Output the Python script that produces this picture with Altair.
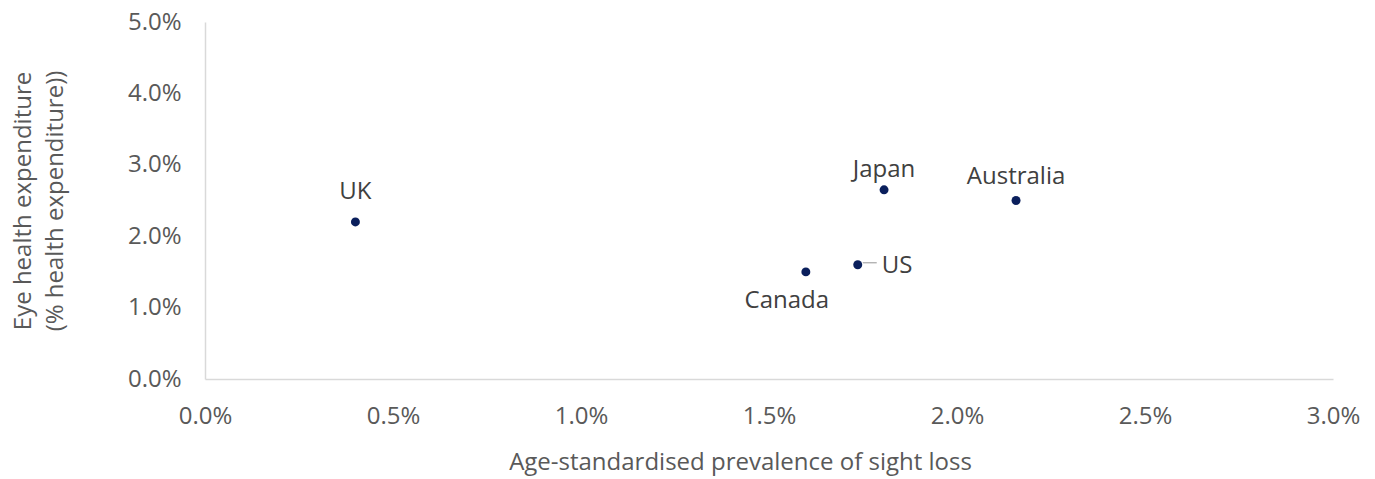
import altair as alt
import pandas as pd

countries = ["UK", "Japan", "Australia", "Canada", "US"]
prevalence = [0.40, 1.806, 2.157, 1.598, 1.736]      # % (x)
eye_spend = [2.20, 2.65, 2.50, 1.50, 1.60]          # % (y)

x_ticks = [0.0, 0.5, 1.0, 1.5, 2.0, 2.5, 3.0]
y_ticks = [0.0, 1.0, 2.0, 3.0, 4.0, 5.0]

df = pd.DataFrame({
    "country": countries,
    "x": [v / 100 for v in prevalence],
    "y": [v / 100 for v in eye_spend],
})

FONT = "Open Sans"
GREY = "#595959"
FS = 24

xs = alt.Scale(domain=[0, 0.03], nice=False, zero=False)
ys = alt.Scale(domain=[0, 0.05], nice=False, zero=False)

X = alt.X("x:Q", scale=xs, axis=alt.Axis(
    values=[v / 100 for v in x_ticks], format=".1%", grid=False, ticks=False,
    domainColor="#d9d9d9", domainWidth=1.5, labelFont=FONT, labelFontSize=FS,
    labelColor=GREY, labelPadding=25, labelFlush=False,
    title="Age-standardised prevalence of sight loss", titleFont=FONT,
    titleFontSize=FS, titleFontWeight="normal", titleColor=GREY,
    titlePadding=22, titleX=535))
Y = alt.Y("y:Q", scale=ys, axis=alt.Axis(
    values=[v / 100 for v in y_ticks], format=".1%", grid=False, ticks=False,
    domainColor="#d9d9d9", domainWidth=1.5, labelFont=FONT, labelFontSize=FS,
    labelColor=GREY, labelPadding=24, labelFlush=False,
    title=["Eye health expenditure", "(% health expenditure))"], titleFont=FONT,
    titleFontSize=FS, titleFontWeight="normal", titleColor=GREY,
    titlePadding=60, titleLineHeight=32))

base = alt.Chart(df)

points = base.mark_circle(size=80, color="#0a1f5c", opacity=1).encode(x=X, y=Y)

label_style = {
    "UK": dict(align="center", dx=0, dy=-23),
    "Japan": dict(align="center", dx=0, dy=-13),
    "Australia": dict(align="center", dx=0, dy=-17),
    "Canada": dict(align="center", dx=-19, dy=36),
    "US": dict(align="left", dx=24, dy=8),
}

layers = [points]
for c, st in label_style.items():
    layers.append(
        base.transform_filter(alt.datum.country == c)
        .mark_text(font=FONT, fontSize=FS, color="#404040", baseline="alphabetic", **st)
        .encode(x="x:Q", y="y:Q", text="country:N")
    )

leader = base.transform_filter(alt.datum.country == "US").mark_rule(
    color="#a6a6a6", strokeWidth=1.2, xOffset=5, x2Offset=19, yOffset=-2, y2Offset=-2
).encode(x="x:Q", x2=alt.X2("x"), y="y:Q")
layers.append(leader)

chart = alt.layer(*layers).properties(
    width=1128, height=357,
    autosize=alt.AutoSizeParams(type="none"),
    padding={"left": 197, "top": 14, "right": 30, "bottom": 100},
).configure(background="white").configure_view(stroke=None)

chart.save("out.html", embed_options={"renderer": "svg", "actions": False})
